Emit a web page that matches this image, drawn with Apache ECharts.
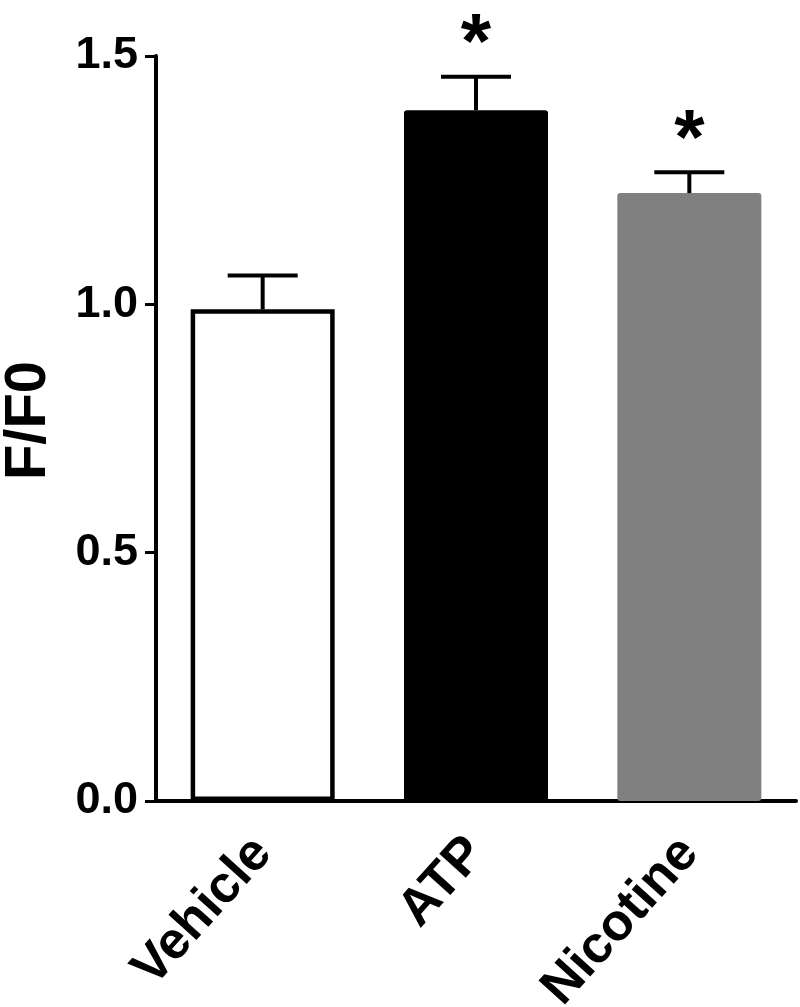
<!DOCTYPE html>
<html>
<head>
<meta charset="utf-8">
<script src="https://cdn.jsdelivr.net/npm/echarts@6/dist/echarts.min.js"></script>
<style>
  html, body { margin: 0; padding: 0; background: #fff; }
  #main { width: 800px; height: 1007px; }
</style>
</head>
<body>
<div id="main"></div>
<script>
// data
var categories = ['Vehicle', 'ATP', 'Nicotine']
var means = [0.99, 1.391, 1.224]
var sems = [0.068, 0.067, 0.042]
var marks = ['', '*', '*']
var yTicks = [0, 0.5, 1.0, 1.5]

var barColors = ['#ffffff', '#000000', '#808080']
var font = 'Liberation Sans, Arial, Helvetica, sans-serif'

var myChart = echarts.init(document.getElementById('main'))

var errData = categories.map(function (c, i) {
  return [i, means[i], means[i] + sems[i], marks[i]]
})

myChart.setOption({
  animation: false,
  grid: { left: 156, right: 4, top: 56, bottom: 206, outerBoundsMode: 'none', containLabel: false },
  xAxis: {
    type: 'category',
    data: categories,
    axisLine: { lineStyle: { color: '#000', width: 4 } },
    axisTick: { alignWithLabel: true, length: 11, lineStyle: { color: '#000', width: 3 } },
    axisLabel: {
      rotate: 48,
      margin: 44,
      color: '#000',
      fontFamily: font,
      fontWeight: 'bold',
      fontSize: 52
    }
  },
  yAxis: {
    type: 'value',
    min: yTicks[0],
    max: yTicks[yTicks.length - 1],
    interval: 0.5,
    name: 'F/F0',
    nameLocation: 'middle',
    nameGap: 98,
    nameTextStyle: { color: '#000', fontFamily: font, fontWeight: 'bold', fontSize: 58, padding: [0, 0, 0, 16] },
    splitLine: { show: false },
    axisLine: { show: true, lineStyle: { color: '#000', width: 4 } },
    axisTick: { show: true, length: 11, lineStyle: { color: '#000', width: 3 } },
    axisLabel: {
      margin: 18,
      color: '#000',
      fontFamily: font,
      fontWeight: 'bold',
      fontSize: 45,
      formatter: function (v) { return v.toFixed(1) }
    }
  },
  series: [
    {
      type: 'bar',
      barWidth: 144,
      data: means.map(function (v, i) {
        return {
          value: v,
          itemStyle: {
            color: barColors[i],
            borderColor: i === 0 ? '#000' : barColors[i],
            borderWidth: i === 0 ? 4.5 : 0,
            borderRadius: i === 0 ? 0 : 3
          }
        }
      })
    },
    {
      type: 'custom',
      z: 5,
      data: errData,
      renderItem: function (params, api) {
        var base = api.coord([api.value(0), api.value(1)])
        var top = api.coord([api.value(0), api.value(2)])
        var half = 35
        var children = [
          { type: 'line', shape: { x1: base[0], y1: base[1], x2: top[0], y2: top[1] }, style: { stroke: '#000', lineWidth: 4 } },
          { type: 'line', shape: { x1: top[0] - half, y1: top[1], x2: top[0] + half, y2: top[1] }, style: { stroke: '#000', lineWidth: 4 } }
        ]
        var mark = errData[params.dataIndex][3]
        if (mark) {
          children.push({
            type: 'text',
            style: {
              text: mark,
              x: top[0],
              y: top[1] - 30,
              align: 'center',
              verticalAlign: 'middle',
              fill: '#000',
              font: 'bold 78px ' + font
            }
          })
        }
        return { type: 'group', children: children }
      }
    }
  ]
})
</script>
</body>
</html>
